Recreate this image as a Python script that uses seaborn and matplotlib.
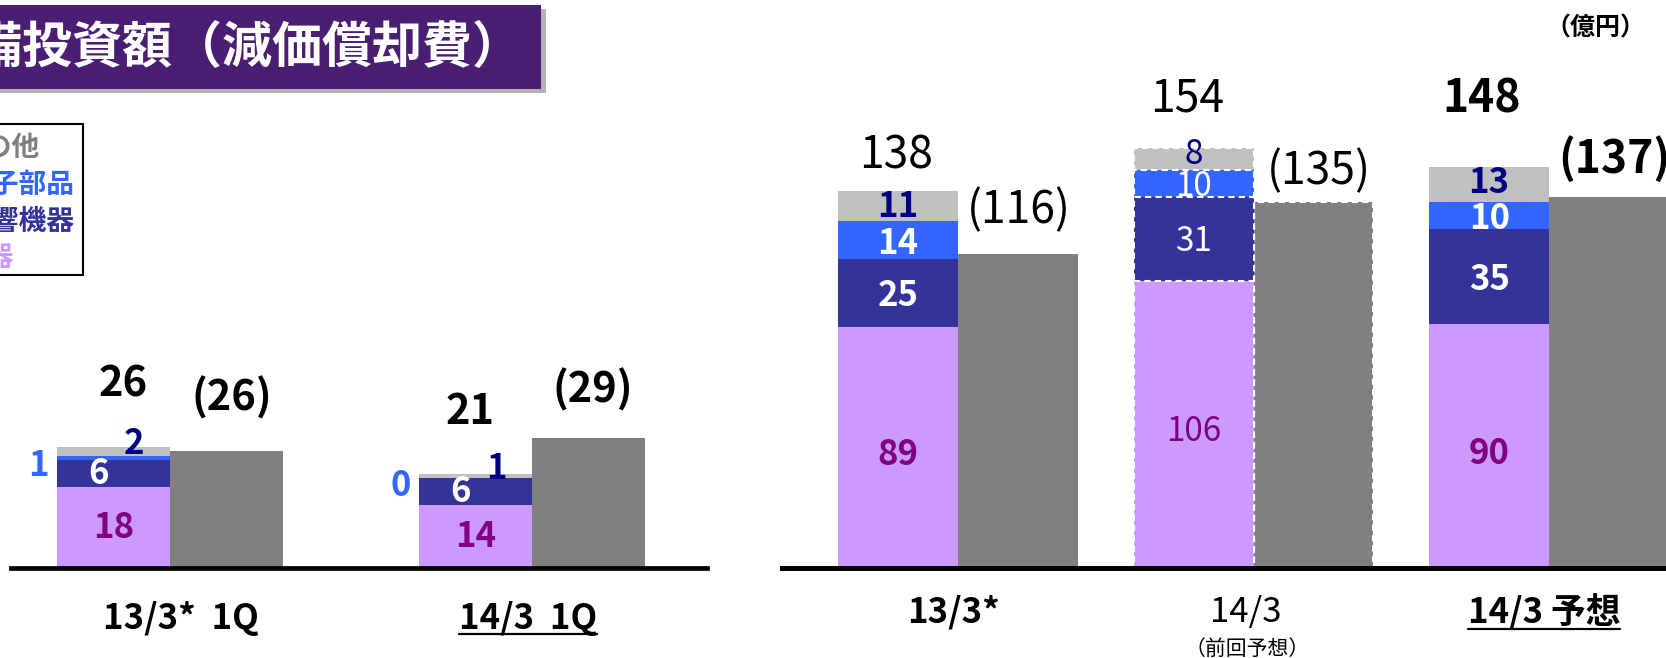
import numpy as np
import pandas as pd
import matplotlib
matplotlib.use("Agg")
import matplotlib.pyplot as plt
from matplotlib.patches import Rectangle
from matplotlib.lines import Line2D
import seaborn as sns

# ---------------- data ----------------
title_text = "設備投資額（減価償却費）"
unit_text = "（億円）"
legend_labels = ["その他", "電子部品", "音響機器", "機器"]   # top -> bottom as listed in the box

q_categories = ["13/3*  1Q", "14/3  1Q"]
q_seg_main = [18, 14]      # lavender (bottom)
q_seg_audio = [6, 6]       # 音響機器
q_seg_parts = [1, 0]       # 電子部品
q_seg_other = [2, 1]       # その他 (top)
q_totals = [26, 21]
q_depr = [26, 29]

y_categories = ["13/3*", "14/3", "14/3 予想"]
y_sub_label = "（前回予想）"
y_seg_main = [89, 106, 90]
y_seg_audio = [25, 31, 35]
y_seg_parts = [14, 10, 10]
y_seg_other = [11, 8, 13]
y_totals = [138, 154, 148]
y_depr = [116, 135, 137]

# ---------------- style ----------------
sns.set_theme(style="white")
plt.rcParams["font.family"] = ["Noto Sans CJK JP", "DejaVu Sans"]

C_MAIN, C_AUDIO, C_PARTS, C_OTHER = "#CC99FF", "#333399", "#3366FF", "#C0C0C0"
C_DEP = "#808080"
T_PURPLE, T_NAVY, T_BLUE, T_WHITE = "#800080", "#000080", "#3366FF", "white"
SEG_COLORS = [C_MAIN, C_AUDIO, C_PARTS, C_OTHER]

W, H, DPI = 1666, 658, 100
fig = plt.figure(figsize=(W / DPI, H / DPI), dpi=DPI)
fig.patch.set_facecolor("white")


def fx(px):
    return px / W


def fy(py):
    return 1 - py / H


def stacked(ax, cats, layers, depr, width):
    cum = np.cumsum(np.array(layers, dtype=float), axis=0)
    for k in range(len(layers) - 1, -1, -1):
        rows = [{"cat": c, "kind": "inv", "v": v} for c, v in zip(cats, cum[k])]
        if k == len(layers) - 1:
            rows += [{"cat": c, "kind": "dep", "v": v} for c, v in zip(cats, depr)]
        df = pd.DataFrame(rows)
        sns.barplot(data=df, x="cat", y="v", hue="kind", order=cats,
                    hue_order=["inv", "dep"],
                    palette={"inv": SEG_COLORS[k], "dep": C_DEP},
                    width=width, gap=0, dodge=True, errorbar=None,
                    saturation=1, legend=False, ax=ax, linewidth=0)
    return cum


def lab(ax, text, x, y, dx=0, dy=0, **kw):
    return ax.annotate(text, xy=(x, y), xytext=(dx, dy), textcoords="offset pixels",
                       ha="center", va="center", annotation_clip=False, **kw)


# ---------------- title & legend box ----------------
fig.add_artist(Rectangle((fx(-10), fy(93)), fx(556), 84 / H, transform=fig.transFigure,
                         facecolor="#B3B3B3", edgecolor="none", zorder=0))
fig.add_artist(Rectangle((fx(-10), fy(89)), fx(551), 84 / H, transform=fig.transFigure,
                         facecolor="#4A1E73", edgecolor="none", zorder=1))
fig.text(fx(-77), fy(48), title_text, color="white", fontsize=36, fontweight="bold",
         ha="left", va="center", zorder=2)

fig.add_artist(Rectangle((fx(-5), fy(276)), fx(89), 152 / H, transform=fig.transFigure,
                         facecolor="#A0A0A0", edgecolor="none", zorder=1))
fig.add_artist(Rectangle((fx(-5), fy(275)), fx(88), 151 / H, transform=fig.transFigure,
                         facecolor="white", edgecolor="black", lw=1.5, zorder=2))
leg_colors = ["#808080", "#3366FF", "#333399", "#CC99FF"]
leg_y = [148, 185, 222, 258]
leg_right = [40, 74, 75, 14]
for txt, col, yy, xr in zip(legend_labels, leg_colors, leg_y, leg_right):
    fig.text(fx(xr), fy(yy), txt, color=col, fontsize=20, fontweight="bold",
             ha="right", va="center", zorder=3)

fig.text(fx(1595), fy(28), unit_text, fontsize=18, fontweight="bold",
         ha="center", va="center", color="black")

# ---------------- left chart (1Q) ----------------
L_x0, L_x1, L_base, L_top, L_scale = 11, 707, 568, 60, 4.5
L_c0, L_sp = 170, 362
wL = 2 * 113 / L_sp
axL = fig.add_axes([fx(L_x0), fy(L_base), (L_x1 - L_x0) / W, (L_base - L_top) / H])
cumL = stacked(axL, q_categories, [q_seg_main, q_seg_audio, q_seg_parts, q_seg_other], q_depr, wL)
axL.set_xlim(-(L_c0 - L_x0) / L_sp, 1 + (L_x1 - (L_c0 + L_sp)) / L_sp)
axL.set_ylim(0, (L_base - L_top) / L_scale)

bold = dict(fontweight="bold")
for i in range(len(q_categories)):
    xs = i - wL / 4
    xd = i + wL / 4
    lab(axL, str(q_totals[i]), xs, cumL[3][i], [10, -5][i], 62, fontsize=30, color="black", **bold)
    lab(axL, f"({q_depr[i]})", xd, q_depr[i], [5, 4][i], [53, 48][i], fontsize=30, color="black", **bold)
    lab(axL, str(q_seg_main[i]), xs, q_seg_main[i] / 2, 0, 0, fontsize=25, color=T_PURPLE, **bold)
    lab(axL, str(q_seg_audio[i]), xs, cumL[0][i] + q_seg_audio[i] / 2, -15, 0,
        fontsize=25, color=T_WHITE, **bold)
    lab(axL, str(q_seg_parts[i]), xs, cumL[1][i] + q_seg_parts[i] / 2, -75, -8,
        fontsize=25, color=T_BLUE, **bold)
    lab(axL, str(q_seg_other[i]), xs, cumL[2][i] + q_seg_other[i] / 2, 21, 7,
        fontsize=25, color=T_NAVY, **bold)

q_xlab = []
for i, c in enumerate(q_categories):
    q_xlab.append(lab(axL, c, i, 0, [11, -4][i], -50, fontsize=25, color="black", **bold))

# ---------------- right chart (full year) ----------------
R_x0, R_x1, R_base, R_top, R_scale = 782, 1666, 568, 0, 2.71
R_c0, R_sp = 958, 295.5
wR = 0.81
axR = fig.add_axes([fx(R_x0), fy(R_base), (R_x1 - R_x0) / W, (R_base - R_top) / H])
cumR = stacked(axR, y_categories, [y_seg_main, y_seg_audio, y_seg_parts, y_seg_other], y_depr, wR)
axR.set_xlim(-(R_c0 - R_x0) / R_sp, 2 + (R_x1 - (R_c0 + 2 * R_sp)) / R_sp)
axR.set_ylim(0, (R_base - R_top) / R_scale)

# previous-forecast column: dashed white outlines
for p in axR.patches:
    cx = p.get_x() + p.get_width() / 2
    if abs(cx - 1) < 0.5:
        p.set_edgecolor("white")
        p.set_linewidth(1.5)
        p.set_linestyle((0, (3, 2)))

col_w = ["normal", "normal", "bold"]
seg_w = ["bold", "normal", "bold"]
seg_fs = [25, 24, 25]
tot_dx, tot_dy = [-2, -7, -8], [36, 49, 67]
dep_dx, dep_dy = [1, 6, 5], [43, 31, 37]
oth_dy = [0, 4, 2]
for i in range(len(y_categories)):
    xs = i - wR / 4
    xd = i + wR / 4
    lab(axR, str(y_totals[i]), xs, cumR[3][i], tot_dx[i], tot_dy[i], fontsize=32,
        color="black", fontweight=col_w[i])
    lab(axR, f"({y_depr[i]})", xd, y_depr[i], dep_dx[i], dep_dy[i], fontsize=32,
        color="black", fontweight=col_w[i])
    lab(axR, str(y_seg_main[i]), xs, y_seg_main[i] / 2, 0, -7, fontsize=seg_fs[i],
        color=T_PURPLE, fontweight=seg_w[i])
    lab(axR, str(y_seg_audio[i]), xs, cumR[0][i] + y_seg_audio[i] / 2, 0, -3, fontsize=seg_fs[i],
        color=T_WHITE, fontweight=seg_w[i])
    lab(axR, str(y_seg_parts[i]), xs, cumR[1][i] + y_seg_parts[i] / 2, 0, -3, fontsize=seg_fs[i],
        color=T_WHITE, fontweight=seg_w[i])
    lab(axR, str(y_seg_other[i]), xs, cumR[2][i] + y_seg_other[i] / 2, 0, oth_dy[i],
        fontsize=seg_fs[i], color=T_NAVY, fontweight=seg_w[i])

xl_w = ["bold", "normal", "bold"]
xl_dx = [-4, -8, -5]
y_xlab = []
for i, c in enumerate(y_categories):
    y_xlab.append(lab(axR, c, i, 0, xl_dx[i], -44, fontsize=25, color="black", fontweight=xl_w[i]))
lab(axR, y_sub_label, 1, 0, -6, -81, fontsize=15, color="black")

# ---------------- axes cosmetics ----------------
for ax, lw in ((axL, 3.4), (axR, 3.6)):
    ax.set_xticks([])
    ax.set_yticks([])
    ax.set_xlabel("")
    ax.set_ylabel("")
    ax.patch.set_alpha(0)
    for s in ("left", "right", "top"):
        ax.spines[s].set_visible(False)
    ax.spines["bottom"].set_color("black")
    ax.spines["bottom"].set_linewidth(lw)
    ax.spines["bottom"].set_zorder(5)

# underlines for the current-period labels
fig.canvas.draw()
renderer = fig.canvas.get_renderer()
for t, yline in ((q_xlab[1], 634), (y_xlab[2], 629)):
    bb = t.get_window_extent(renderer)
    fig.add_artist(Line2D([bb.x0 / W, bb.x1 / W], [fy(yline)] * 2, transform=fig.transFigure,
                          color="black", lw=1.6))

fig.savefig("out.png", dpi=DPI)
